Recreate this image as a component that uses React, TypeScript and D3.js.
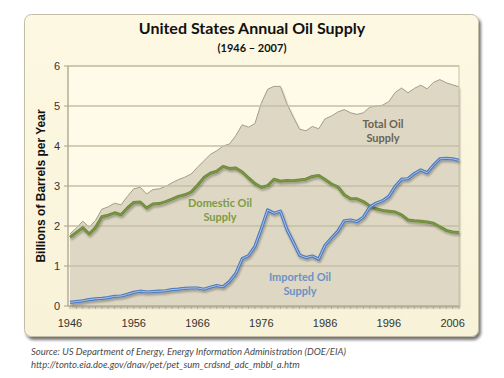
import React from "react";
import * as d3 from "d3";

const years: number[] = d3.range(1946, 2008);

const domestic: number[] = [
  1.72, 1.84, 1.96, 1.80, 1.96, 2.23, 2.27, 2.33, 2.28, 2.45,
  2.59, 2.60, 2.45, 2.55, 2.56, 2.61, 2.67, 2.74, 2.78, 2.85,
  3.02, 3.21, 3.32, 3.37, 3.49, 3.44, 3.45, 3.35, 3.20, 3.06,
  2.97, 3.01, 3.17, 3.12, 3.14, 3.13, 3.15, 3.17, 3.24, 3.26,
  3.16, 3.05, 2.98, 2.78, 2.68, 2.68, 2.61, 2.50, 2.43, 2.39,
  2.37, 2.35, 2.28, 2.15, 2.13, 2.12, 2.10, 2.07, 1.98, 1.89,
  1.85, 1.84,
];

const imported: number[] = [
  0.09, 0.11, 0.13, 0.16, 0.18, 0.19, 0.21, 0.24, 0.25, 0.29,
  0.34, 0.37, 0.35, 0.36, 0.37, 0.38, 0.41, 0.42, 0.44, 0.45,
  0.45, 0.42, 0.47, 0.51, 0.48, 0.61, 0.81, 1.18, 1.26, 1.49,
  1.93, 2.40, 2.32, 2.37, 1.92, 1.60, 1.27, 1.21, 1.25, 1.17,
  1.52, 1.70, 1.87, 2.13, 2.15, 2.11, 2.22, 2.47, 2.57, 2.63,
  2.74, 2.99, 3.17, 3.18, 3.31, 3.40, 3.33, 3.52, 3.68, 3.69,
  3.68, 3.64,
];

const total: number[] = [
  1.80, 1.95, 2.12, 1.97, 2.14, 2.42, 2.48, 2.57, 2.53, 2.74,
  2.93, 2.97, 2.80, 2.91, 2.93, 2.99, 3.08, 3.16, 3.22, 3.30,
  3.47, 3.63, 3.79, 3.88, 4.00, 4.05, 4.26, 4.53, 4.47, 4.56,
  5.07, 5.42, 5.49, 5.49, 5.06, 4.73, 4.42, 4.38, 4.49, 4.43,
  4.68, 4.75, 4.85, 4.91, 4.83, 4.79, 4.83, 4.97, 5.00, 5.02,
  5.11, 5.34, 5.45, 5.33, 5.44, 5.52, 5.43, 5.59, 5.66, 5.58,
  5.53, 5.48,
];

const yTicks: number[] = [0, 1, 2, 3, 4, 5, 6];
const xTickYears: number[] = [1946, 1956, 1966, 1976, 1986, 1996, 2006];

const title = "United States Annual Oil Supply";
const subtitle = "(1946 – 2007)";
const yLabel = "Billions of Barrels per Year";
const sourceLines = [
  "Source: US Department of Energy, Energy Information Administration (DOE/EIA)",
  "http://tonto.eia.doe.gov/dnav/pet/pet_sum_crdsnd_adc_mbbl_a.htm",
];

export default function App() {
  const W = 504;
  const H = 378;
  const plotL = 68;
  const plotR = 459;
  const plotT = 66;
  const plotB = 306;

  const x = d3.scaleLinear().domain([1946, 2007]).range([70, 459]);
  const y = d3.scaleLinear().domain([0, 6]).range([plotB, plotT]);

  const totalArea = d3
    .area<number>()
    .x((_, i) => x(years[i]))
    .y0(y(0))
    .y1((d) => y(d))
    .curve(d3.curveLinear);
  const totalLine = d3
    .line<number>()
    .x((_, i) => x(years[i]))
    .y((d) => y(d));
  const line = d3
    .line<number>()
    .x((_, i) => x(years[i]))
    .y((d) => y(d));

  const sans = "'Liberation Sans', Arial, sans-serif";
  const cal = "Lato, 'Open Sans', sans-serif";

  return (
    <svg
      width={W}
      height={H}
      style={{ position: "absolute", left: 0, top: 0, background: "#ffffff" }}
    >
      <defs>
        <filter id="cardShadow" x="-5%" y="-5%" width="115%" height="115%">
          <feGaussianBlur in="SourceAlpha" stdDeviation="1.5" />
          <feOffset dx="2" dy="3" result="ob" />
          <feComponentTransfer>
            <feFuncA type="linear" slope="0.55" />
          </feComponentTransfer>
          <feMerge>
            <feMergeNode />
            <feMergeNode in="SourceGraphic" />
          </feMerge>
        </filter>
        <filter id="lineShadow" x="-5%" y="-5%" width="110%" height="120%">
          <feGaussianBlur in="SourceAlpha" stdDeviation="1" />
          <feOffset dx="0.5" dy="1.5" />
          <feComponentTransfer>
            <feFuncA type="linear" slope="0.3" />
          </feComponentTransfer>
          <feMerge>
            <feMergeNode />
            <feMergeNode in="SourceGraphic" />
          </feMerge>
        </filter>
        <linearGradient id="cardGrad" x1="0" y1="0" x2="0" y2="1">
          <stop offset="0" stopColor="#fdf8e2" />
          <stop offset="1" stopColor="#f8f2d8" />
        </linearGradient>
      </defs>

      {/* card */}
      <rect
        x={24.5}
        y={14.5}
        width={454}
        height={322}
        rx={7}
        fill="url(#cardGrad)"
        stroke="#c2bca6"
        strokeWidth={1}
        filter="url(#cardShadow)"
      />

      {/* plot background */}
      <rect x={plotL} y={plotT} width={plotR - plotL} height={plotB - plotT} fill="#fffbe8" />

      {/* total area */}
      <g filter="url(#lineShadow)">
        <path d={totalArea(total) || ""} fill="#ddd7c3" />
      </g>
      <path d={totalLine(total) || ""} fill="none" stroke="#a39c8a" strokeWidth={1} />

      {/* gridlines */}
      {yTicks
        .filter((t) => t > 0)
        .map((t) => (
          <line
            key={t}
            x1={plotL}
            x2={plotR}
            y1={y(t)}
            y2={y(t)}
            stroke="#c6bfa6"
            strokeWidth={1.3}
          />
        ))}

      {/* plot border */}
      <rect
        x={plotL}
        y={plotT}
        width={plotR - plotL}
        height={plotB - plotT}
        fill="none"
        stroke="#c9c2aa"
        strokeWidth={1}
      />
      <line x1={plotL} x2={plotL} y1={plotT} y2={plotB} stroke="#a8a290" strokeWidth={1} />
      <line x1={plotL} x2={plotR} y1={plotB} y2={plotB} stroke="#a8a290" strokeWidth={1.2} />

      {/* y ticks */}
      {yTicks.map((t) => (
        <g key={t}>
          <line x1={plotL - 4} x2={plotL} y1={y(t)} y2={y(t)} stroke="#a8a290" />
          <text
            x={60}
            y={y(t) + 4}
            textAnchor="end"
            fontFamily={sans}
            fontSize={11}
            fill="#333"
          >
            {t}
          </text>
        </g>
      ))}

      {/* x minor ticks */}
      {years.map((yr) => (
        <line
          key={yr}
          x1={x(yr)}
          x2={x(yr)}
          y1={plotB}
          y2={plotB + 3}
          stroke="#a8a290"
          strokeWidth={0.8}
        />
      ))}
      {xTickYears.map((yr) => (
        <text
          key={yr}
          x={x(yr)}
          y={327}
          textAnchor="middle"
          fontFamily={sans}
          fontSize={11}
          fill="#333"
        >
          {yr}
        </text>
      ))}

      {/* domestic line */}
      <g filter="url(#lineShadow)">
        <path d={line(domestic) || ""} fill="none" stroke="#6e8a3a" strokeWidth={3} strokeLinejoin="round" />
      </g>
      <path d={line(domestic) || ""} fill="none" stroke="#88a452" strokeWidth={1} strokeLinejoin="round" opacity={0.6} />

      {/* imported line */}
      <g filter="url(#lineShadow)">
        <path d={line(imported) || ""} fill="none" stroke="#4f7bbf" strokeWidth={3.2} strokeLinejoin="round" />
      </g>
      <path d={line(imported) || ""} fill="none" stroke="#a9c1e6" strokeWidth={1} strokeLinejoin="round" />

      {/* annotations */}
      <g fontFamily={cal} fontWeight="bold" fontSize={11} textAnchor="middle">
        <text x={383} y={128} fill="#6a6353">Total Oil</text>
        <text x={383} y={142} fill="#6a6353">Supply</text>
        <text x={220} y={207} fill="#7d9b45">Domestic Oil</text>
        <text x={220} y={221} fill="#7d9b45">Supply</text>
        <text x={300} y={281} fill="#6b91c6">Imported Oil</text>
        <text x={300} y={295} fill="#6b91c6">Supply</text>
      </g>

      {/* titles */}
      <text x={252} y={34} textAnchor="middle" fontFamily={cal} fontWeight="bold" fontSize={16} fill="#111">
        {title}
      </text>
      <text x={252} y={52} textAnchor="middle" fontFamily={cal} fontWeight="bold" fontSize={11} fill="#111">
        {subtitle}
      </text>

      {/* y label */}
      <text
        transform={`translate(45, ${(plotT + plotB) / 2}) rotate(-90)`}
        textAnchor="middle"
        fontFamily={sans}
        fontWeight="bold"
        fontSize={12}
        fill="#111"
      >
        {yLabel}
      </text>

      {/* source */}
      {sourceLines.map((s, i) => (
        <text
          key={i}
          x={31}
          y={355 + i * 13}
          fontFamily={cal}
          fontStyle="italic"
          fontSize={9.5}
          fill="#4a4a4a"
        >
          {s}
        </text>
      ))}
    </svg>
  );
}
